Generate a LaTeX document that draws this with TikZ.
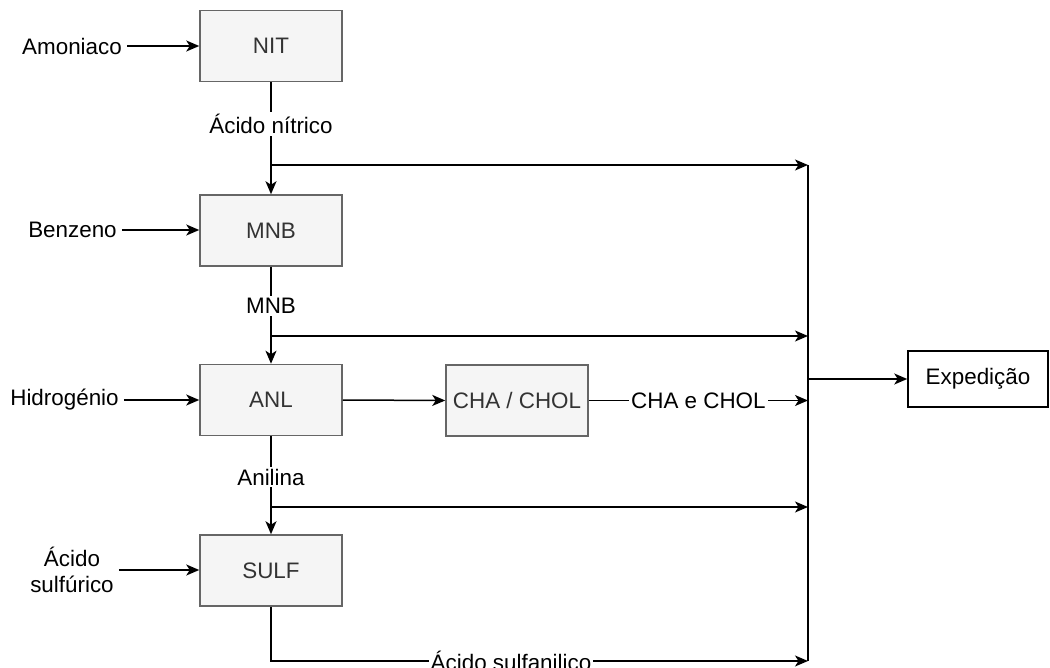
\documentclass[tikz,border=0pt]{standalone}
\usepackage{fontspec}
\setmainfont{Liberation Sans}
\usetikzlibrary{arrows.meta}
\definecolor{boxfill}{HTML}{F5F5F5}
\definecolor{boxline}{HTML}{666666}
\definecolor{boxtext}{HTML}{333333}
\begin{document}
\begin{tikzpicture}[x=1pt,y=-1pt,
  every node/.style={font=\fontsize{22.4}{26}\selectfont},
  unit/.style={draw=boxline,fill=boxfill,line width=1.5pt,minimum width=142pt,minimum height=71pt,text=boxtext,inner sep=0pt},
  outbox/.style={draw=black,fill=white,line width=1.5pt,minimum width=140pt,minimum height=56pt,inner sep=0pt},
  inlabel/.style={inner sep=5pt,align=center},
  flowlabel/.style={fill=white,inner sep=2pt},
  conn/.style={line width=1.5pt},
  arr/.style={conn,-{Stealth[length=13pt,width=11pt,inset=3.5pt]}}]
\useasboundingbox (0,0) rectangle (1050,668);
% units
\node[unit] (nit) at (271,46) {NIT};
\node[unit] (mnb) at (271,230.5) {MNB};
\node[unit] (anl) at (271,400) {ANL};
\node[unit] (sulf) at (271,570.5) {SULF};
\node[unit] (cha) at (517,400.5) {CHA / CHOL};
\node[outbox] (exp) at (978,379) {Expedição};
% inputs
\node[inlabel] (amon) at (72,46) {Amoniaco};
\node[inlabel] (benz) at (72.5,230) {Benzeno};
\node[inlabel] (hidr) at (64.5,400) {Hidrogénio};
\node[inlabel] (acs) at (72,570) {Ácido\\sulfúrico};
\draw[arr] (amon.east) -- (nit.west);
\draw[arr] (benz.east) -- (benz.east -| mnb.west);
\draw[arr] (hidr.east) -- (hidr.east -| anl.west);
\draw[arr] (acs.east) -- (acs.east -| sulf.west);
% bus coordinates
\coordinate (j1) at (271,165);
\coordinate (j2) at (271,336);
\coordinate (j3) at (271,507);
\coordinate (b1) at (808,165);
\coordinate (b2) at (808,336);
\coordinate (b4) at (808,507);
\coordinate (b5) at (808,661);
\coordinate (bx) at (808,379);
% vertical chain
\draw[arr] (nit.south) -- (mnb.north);
\draw[arr] (mnb.south) -- (anl.north);
\draw[arr] (anl.south) -- (sulf.north);
\node[flowlabel] (l1) at (271,124) {Ácido nítrico};
\node[flowlabel] (l2) at (271,306) {MNB};
\node[flowlabel] (l3) at (271,477) {Anilina};
% branches to bus
\draw[arr] (j1) -- (b1);
\draw[arr] (j2) -- (b2);
\draw[arr] (j3) -- (b4);
\draw[conn] (b1) -- (b5);
\draw[arr] (anl.east) -- (cha.west);
\draw[arr] (cha.east) -- (cha.east -| b1) node[flowlabel,pos=0.5] (l4) {CHA e CHOL};
\draw[arr] (sulf.south) |- (b5);
\node[flowlabel] (l5) at (511,661) {Ácido sulfanilico};
\draw[arr] (bx) -- (exp.west);
\end{tikzpicture}
\end{document}
